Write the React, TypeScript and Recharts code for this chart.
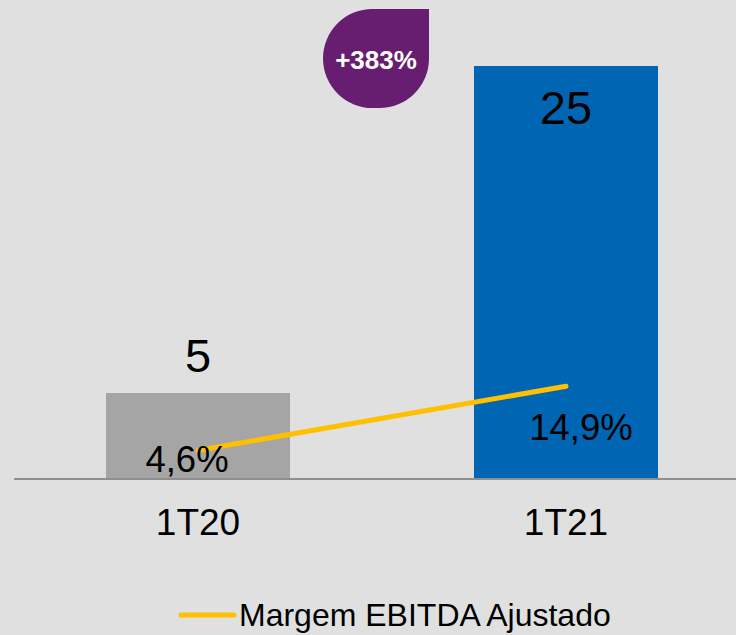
import React from "react";
import { ComposedChart, Bar, Line, XAxis, YAxis, LabelList, Legend } from "recharts";

const categories = ["1T20", "1T21"];
const ebitda = [5.2, 25];
const margem = [4.6, 14.9];
const barColors = ["#a5a5a5", "#0066b3"];
const growthLabel = "+383%";
const legendLabel = "Margem EBITDA Ajustado";

const FONT = "'Liberation Sans', Arial, Helvetica, sans-serif";

const data = categories.map((c, i) => ({
  name: c,
  ebitda: ebitda[i],
  margem: margem[i],
  fill: barColors[i],
}));

const fmtPct = (v: number) => v.toFixed(1).replace(".", ",") + "%";

function BarValue(props: any) {
  const { x, y, width, value, index } = props;
  // first value sits above its bar, second one inside the top of the bar
  const dy = index === 0 ? -21 : 58;
  return (
    <text x={x + width / 2} y={y + dy} textAnchor="middle" fontSize={47} fill="#000" fontFamily={FONT}>
      {Math.round(value)}
    </text>
  );
}

function PctValue(props: any) {
  const { x, y, value, index } = props;
  const dx = index === 0 ? -11 : 15;
  const dy = index === 0 ? 22 : 54;
  return (
    <text x={x + dx} y={y + dy} textAnchor="middle" fontSize={36.5} fill="#000" fontFamily={FONT}>
      {fmtPct(value)}
    </text>
  );
}

function LegendContent() {
  return (
    <svg width={736} height={40} style={{ display: "block" }}>
      <line x1={181} y1={20} x2={234} y2={20} stroke="#ffc000" strokeWidth={5} strokeLinecap="round" />
      <text x={239} y={31} fontSize={32} fill="#000" fontFamily={FONT}>
        {legendLabel}
      </text>
    </svg>
  );
}

export default function App() {
  return (
    <div style={{ position: "relative", width: 736, height: 635, overflow: "hidden", background: "#e0e0e0" }}>
      <style>{"body{margin:0}"}</style>
      <ComposedChart
        width={750}
        height={635}
        data={data}
        margin={{ top: 0, right: 0, bottom: 0, left: 14 }}
        barCategoryGap="25%"
      >
        <XAxis
          dataKey="name"
          height={116}
          tickLine={false}
          tickSize={0}
          tickMargin={30}
          axisLine={{ stroke: "#8f8f8f", strokeWidth: 2 }}
          tick={{ fontSize: 37, fill: "#000", fontFamily: FONT }}
        />
        <YAxis yAxisId="left" hide domain={[0, 29]} />
        <YAxis yAxisId="right" orientation="right" hide domain={[0, 77]} />
        <Bar yAxisId="left" dataKey="ebitda" isAnimationActive={false}>
          <LabelList dataKey="ebitda" content={BarValue} />
        </Bar>
        <Line
          yAxisId="right"
          dataKey="margem"
          stroke="#ffc000"
          strokeWidth={5}
          strokeLinecap="round"
          dot={false}
          activeDot={false}
          isAnimationActive={false}
        >
          <LabelList dataKey="margem" content={PctValue} />
        </Line>
        <Legend verticalAlign="bottom" height={40} wrapperStyle={{ left: 0, width: 736 }} content={LegendContent} />
      </ComposedChart>
      <svg width={736} height={635} style={{ position: "absolute", left: 0, top: 0, pointerEvents: "none" }}>
        <path
          d="M 373 9 L 429 9 L 429 59 A 49.5 49.5 0 0 1 379.5 108 L 373 108 A 49.5 49.5 0 0 1 323 58.5 A 49.5 49.5 0 0 1 373 9 Z"
          fill="#681e70"
        />
        <text x={376} y={69} textAnchor="middle" fontSize={26} fontWeight="bold" fill="#fff" fontFamily={FONT}>
          {growthLabel}
        </text>
      </svg>
    </div>
  );
}
